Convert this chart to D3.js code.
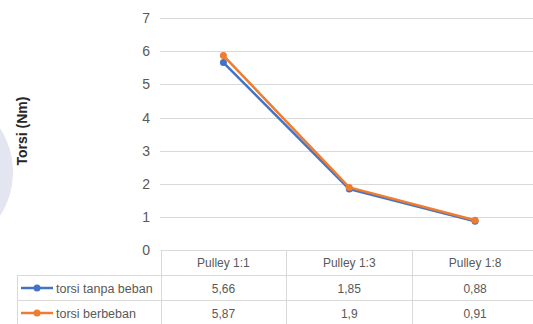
<!DOCTYPE html>
<html lang="en">
<head>
<meta charset="UTF-8">
<title>Torsi</title>
<script src="https://d3js.org/d3.v7.min.js"></script>
<style>
  body { margin: 0; background: #fff; }
  text { font-family: "Liberation Sans", Arial, sans-serif; fill: #595959; }
</style>
</head>
<body>
<script>
// data
const categories = ["Pulley 1:1", "Pulley 1:3", "Pulley 1:8"];
const tanpaBeban = [5.66, 1.85, 0.88];
const berbeban = [5.87, 1.9, 0.91];
const seriesNames = ["torsi tanpa beban", "torsi berbeban"];
const yTicks = [0, 1, 2, 3, 4, 5, 6, 7];

const W = 533, H = 324;
const svg = d3.select("body").append("svg")
    .attr("width", W)
    .attr("height", H);

// faint watermark on the left edge
svg.append("ellipse")
    .attr("cx", -62).attr("cy", 172)
    .attr("rx", 75).attr("ry", 78)
    .attr("fill", "#e3e5f0");

const x = d3.scaleBand()
    .domain(categories)
    .range([160.5, 538])
    .padding(0);

const y = d3.scaleLinear()
    .domain([0, 7])
    .range([250.5, 18]);

// gridlines
svg.append("g")
    .selectAll("line")
    .data(yTicks.filter(d => d > 0))
    .enter().append("line")
    .attr("x1", 160).attr("x2", W)
    .attr("y1", d => Math.round(y(d)) + 0.5)
    .attr("y2", d => Math.round(y(d)) + 0.5)
    .attr("stroke", "#d9d9d9")
    .attr("stroke-width", 1);

// y axis labels
const yAxis = svg.append("g")
    .attr("transform", "translate(150,0)")
    .call(d3.axisLeft(y).tickValues(yTicks).tickFormat(d3.format("d")).tickSize(0).tickPadding(0));
yAxis.select(".domain").remove();
yAxis.selectAll("text")
    .attr("font-size", 14)
    .attr("fill", "#595959")
    .attr("font-family", "Liberation Sans, Arial, sans-serif");

// axis title
svg.append("text")
    .attr("transform", "translate(27,131) rotate(-90)")
    .attr("text-anchor", "middle")
    .attr("font-size", 14)
    .attr("font-weight", "bold")
    .style("fill", "#262626")
    .text("Torsi (Nm)");

// data table
const rowTop = [250.5, 275.5, 300.5, 325.5];
const table = svg.append("g").attr("stroke", "#d9d9d9").attr("stroke-width", 1);
table.append("line").attr("x1", 160.5).attr("x2", W).attr("y1", rowTop[0]).attr("y2", rowTop[0]);
table.append("line").attr("x1", 17.5).attr("x2", W).attr("y1", rowTop[1]).attr("y2", rowTop[1]);
table.append("line").attr("x1", 17.5).attr("x2", W).attr("y1", rowTop[2]).attr("y2", rowTop[2]);
table.append("line").attr("x1", 17.5).attr("x2", 17.5).attr("y1", rowTop[1]).attr("y2", H);
categories.forEach(c => {
    table.append("line")
        .attr("x1", Math.round(x(c)) + 0.5).attr("x2", Math.round(x(c)) + 0.5)
        .attr("y1", rowTop[0]).attr("y2", H);
});

// header
svg.append("g").selectAll("text")
    .data(categories)
    .enter().append("text")
    .attr("x", d => x(d) + x.bandwidth() / 2)
    .attr("y", 267)
    .attr("text-anchor", "middle")
    .attr("font-size", 12)
    .text(d => d);

const fmt = v => String(v).replace(".", ",");
const series = [
    { name: seriesNames[0], values: tanpaBeban, color: "#4472c4" },
    { name: seriesNames[1], values: berbeban, color: "#ed7d31" }
];

series.forEach((s, i) => {
    const cy = (rowTop[i + 1] + rowTop[i + 2]) / 2;
    // legend key
    svg.append("line")
        .attr("x1", 21).attr("x2", 53)
        .attr("y1", cy).attr("y2", cy)
        .attr("stroke", s.color).attr("stroke-width", 2.5);
    svg.append("circle")
        .attr("cx", 37).attr("cy", cy).attr("r", 3.5)
        .attr("fill", s.color);
    svg.append("text")
        .attr("x", 56).attr("y", cy + 4.5)
        .attr("font-size", 12.5)
        .text(s.name);
    // values
    svg.append("g").selectAll("text")
        .data(s.values)
        .enter().append("text")
        .attr("x", (d, j) => x(categories[j]) + x.bandwidth() / 2)
        .attr("y", cy + 4.5)
        .attr("text-anchor", "middle")
        .attr("font-size", 12)
        .text(d => fmt(d));
});

// lines
const line = d3.line()
    .x((d, j) => x(categories[j]) + x.bandwidth() / 2)
    .y(d => y(d));

series.forEach(s => {
    svg.append("path")
        .datum(s.values)
        .attr("fill", "none")
        .attr("stroke", s.color)
        .attr("stroke-width", 2.5)
        .attr("stroke-linejoin", "round")
        .attr("d", line);
    svg.append("g").selectAll("circle")
        .data(s.values)
        .enter().append("circle")
        .attr("cx", (d, j) => x(categories[j]) + x.bandwidth() / 2)
        .attr("cy", d => y(d))
        .attr("r", 3.5)
        .attr("fill", s.color);
});
</script>
</body>
</html>
